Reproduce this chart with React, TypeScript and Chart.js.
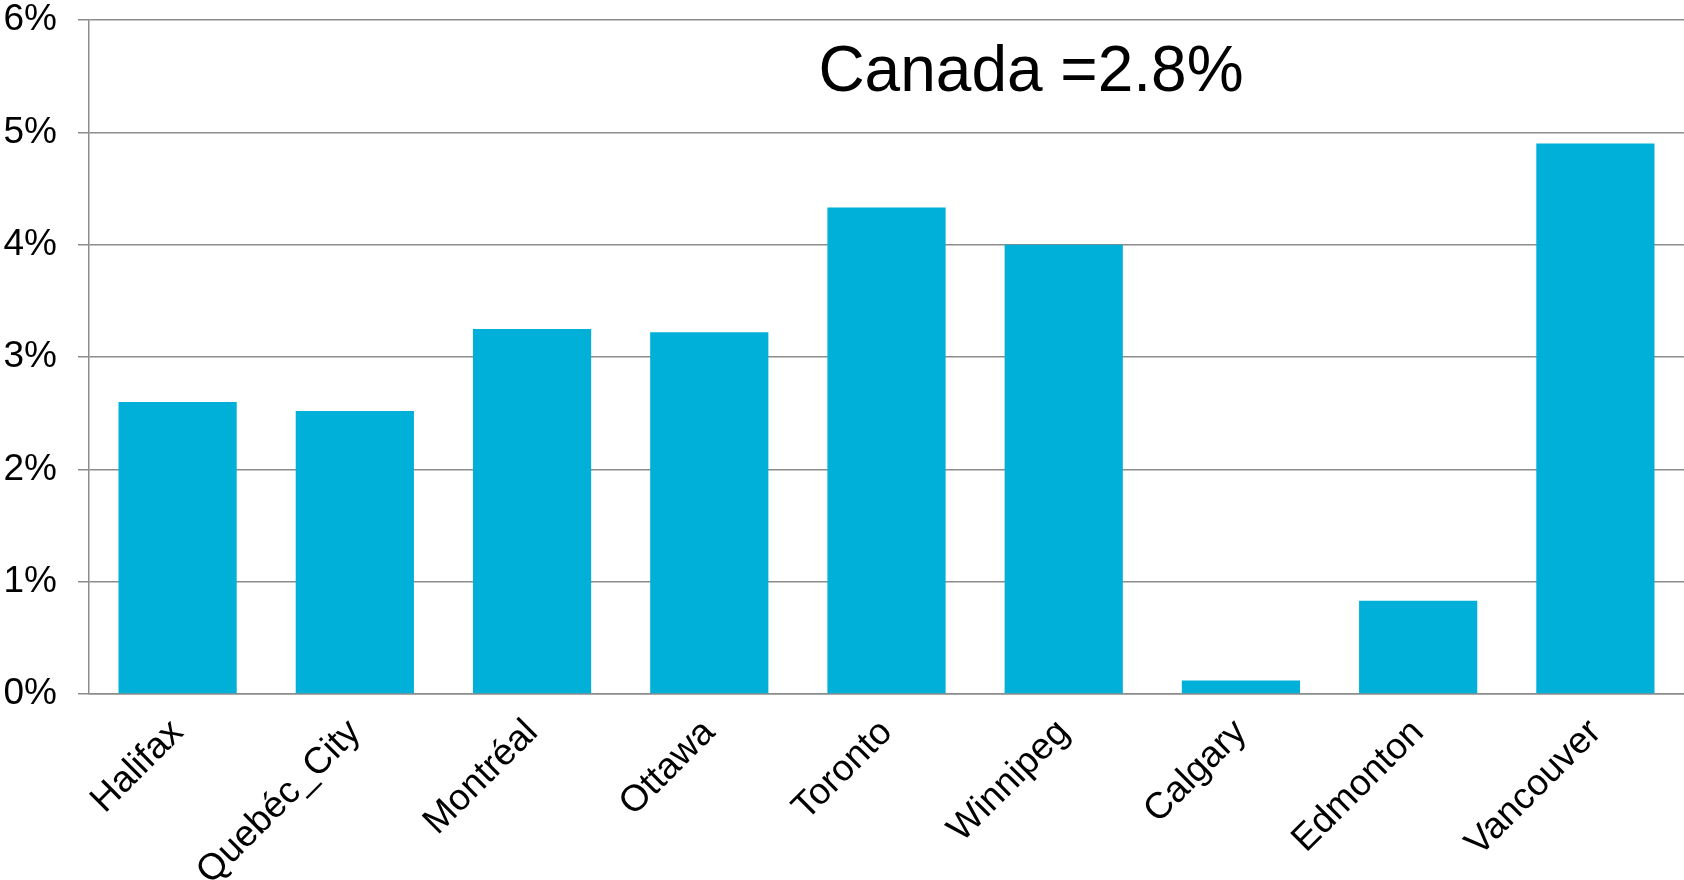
import React, { useEffect, useRef } from "react";
import { Chart, registerables } from "chart.js";

Chart.register(...registerables);

const cities = ["Halifax", "Quebéc_City", "Montréal", "Ottawa", "Toronto", "Winnipeg", "Calgary", "Edmonton", "Vancouver"];
const growth = [2.6, 2.52, 3.25, 3.22, 4.33, 4.0, 0.12, 0.83, 4.9];
const yTicks = [0, 1, 2, 3, 4, 5, 6];
const annotationText = "Canada =2.8%";

const FONT = "'Liberation Sans', Arial, sans-serif";

export default function App() {
  const ref = useRef<HTMLCanvasElement | null>(null);
  useEffect(() => {
    if (!ref.current) return;
    const annot = {
      id: "annot",
      afterDraw(chart: any) {
        const ctx = chart.ctx;
        ctx.save();
        ctx.font = `64px ${FONT}`;
        ctx.fillStyle = "#000";
        ctx.textAlign = "center";
        ctx.textBaseline = "alphabetic";
        ctx.fillText(annotationText, 1031, 91);
        ctx.restore();
      },
    };
    const chart = new Chart(ref.current, {
      type: "bar",
      data: {
        labels: cities,
        datasets: [
          {
            data: growth,
            backgroundColor: "#00B0D8",
            borderWidth: 0,
            categoryPercentage: 1,
            barPercentage: 0.667,
          },
        ],
      },
      options: {
        responsive: false,
        animation: false,
        layout: { padding: { top: 0, right: 0, left: 0, bottom: 0 } },
        plugins: { legend: { display: false }, tooltip: { enabled: false }, title: { display: false } },
        scales: {
          x: {
            grid: { display: false },
            border: { display: true, color: "#8c8c8c", width: 1.5 },
            ticks: {
              color: "#000",
              font: { family: FONT, size: 37 },
              minRotation: 45,
              maxRotation: 45,
              autoSkip: false,
              padding: 9,
            },
            afterFit(scale: any) {
              scale.height = 186;
              scale.paddingLeft = 0;
              scale.paddingRight = 0;
            },
          },
          y: {
            min: 0,
            max: 6,
            afterBuildTicks(scale: any) {
              scale.ticks = yTicks.map((v) => ({ value: v }));
            },
            grid: { color: "#8c8c8c", lineWidth: 1.5, tickLength: 11, drawTicks: true },
            border: { display: true, color: "#8c8c8c", width: 1.5 },
            ticks: {
              color: "#000",
              font: { family: FONT, size: 37 },
              padding: 21,
              callback: (v: any) => `${v}%`,
            },
            afterFit(scale: any) {
              scale.width = 89;
              scale.paddingTop = 20;
              scale.paddingBottom = 0;
            },
          },
        },
      },
      plugins: [annot],
    });
    return () => chart.destroy();
  }, []);
  return (
    <div style={{ position: "fixed", left: 0, top: 0, width: 1684, height: 880, background: "#fff" }}>
      <canvas ref={ref} width={1684} height={880} style={{ display: "block" }} />
    </div>
  );
}
